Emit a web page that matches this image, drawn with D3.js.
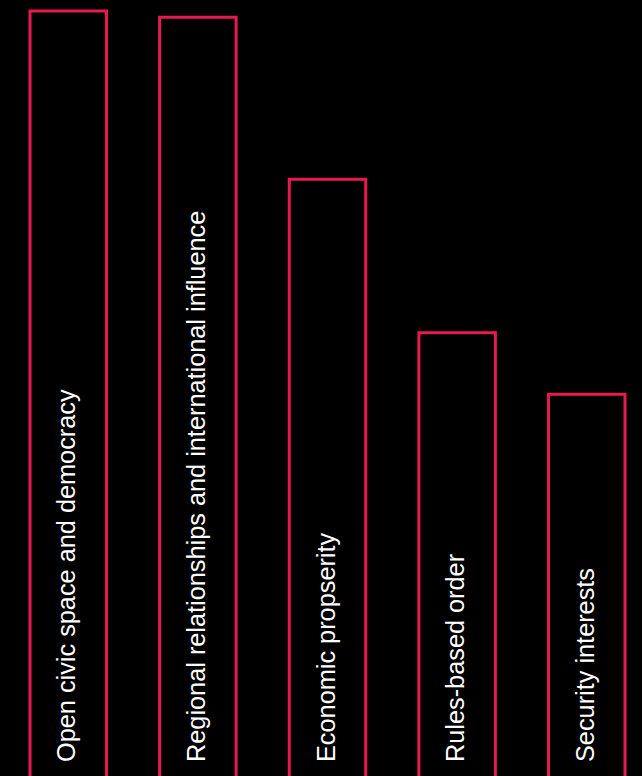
<!DOCTYPE html>
<html>
<head>
<meta charset="utf-8">
<script src="https://cdn.jsdelivr.net/npm/d3@7"></script>
<style>
  html, body { margin: 0; padding: 0; background: #000; }
  svg { display: block; }
</style>
</head>
<body>
<svg id="chart"></svg>
<script>
// categories and their (relative) values
var categories = [
    "Open civic space and democracy",
    "Regional relationships and international influence",
    "Economic propserity",
    "Rules-based order",
    "Security interests"
];
var values = [100, 99.2, 78.4, 58.7, 50.8];

var width = 642,
    height = 776;

var svg = d3.select("#chart")
    .attr("width", width)
    .attr("height", height);

var x = d3.scaleBand()
    .domain(categories)
    .range([30, 625])
    .paddingInner(0.41)
    .paddingOuter(0);

// baseline sits below the visible area, so bars run off the bottom
var y = d3.scaleLinear()
    .domain([0, 100])
    .range([790, 11]);

var bar = svg.selectAll("g.bar")
    .data(categories)
  .enter().append("g")
    .attr("class", "bar")
    .attr("transform", function (d) { return "translate(" + x(d) + ",0)"; });

bar.append("rect")
    .attr("x", 0)
    .attr("y", function (d, i) { return y(values[i]); })
    .attr("width", x.bandwidth())
    .attr("height", function (d, i) { return y(0) - y(values[i]); })
    .attr("fill", "#000")
    .attr("stroke", "#e8194f")
    .attr("stroke-width", 3);

bar.append("text")
    .attr("transform", "translate(" + (x.bandwidth() / 2 + 7) + ",762) rotate(-90)")
    .attr("fill", "#fff")
    .style("font-family", "'Liberation Sans', Arial, Helvetica, sans-serif")
    .style("font-size", "25.3px")
    .text(function (d) { return d; });
</script>
</body>
</html>
